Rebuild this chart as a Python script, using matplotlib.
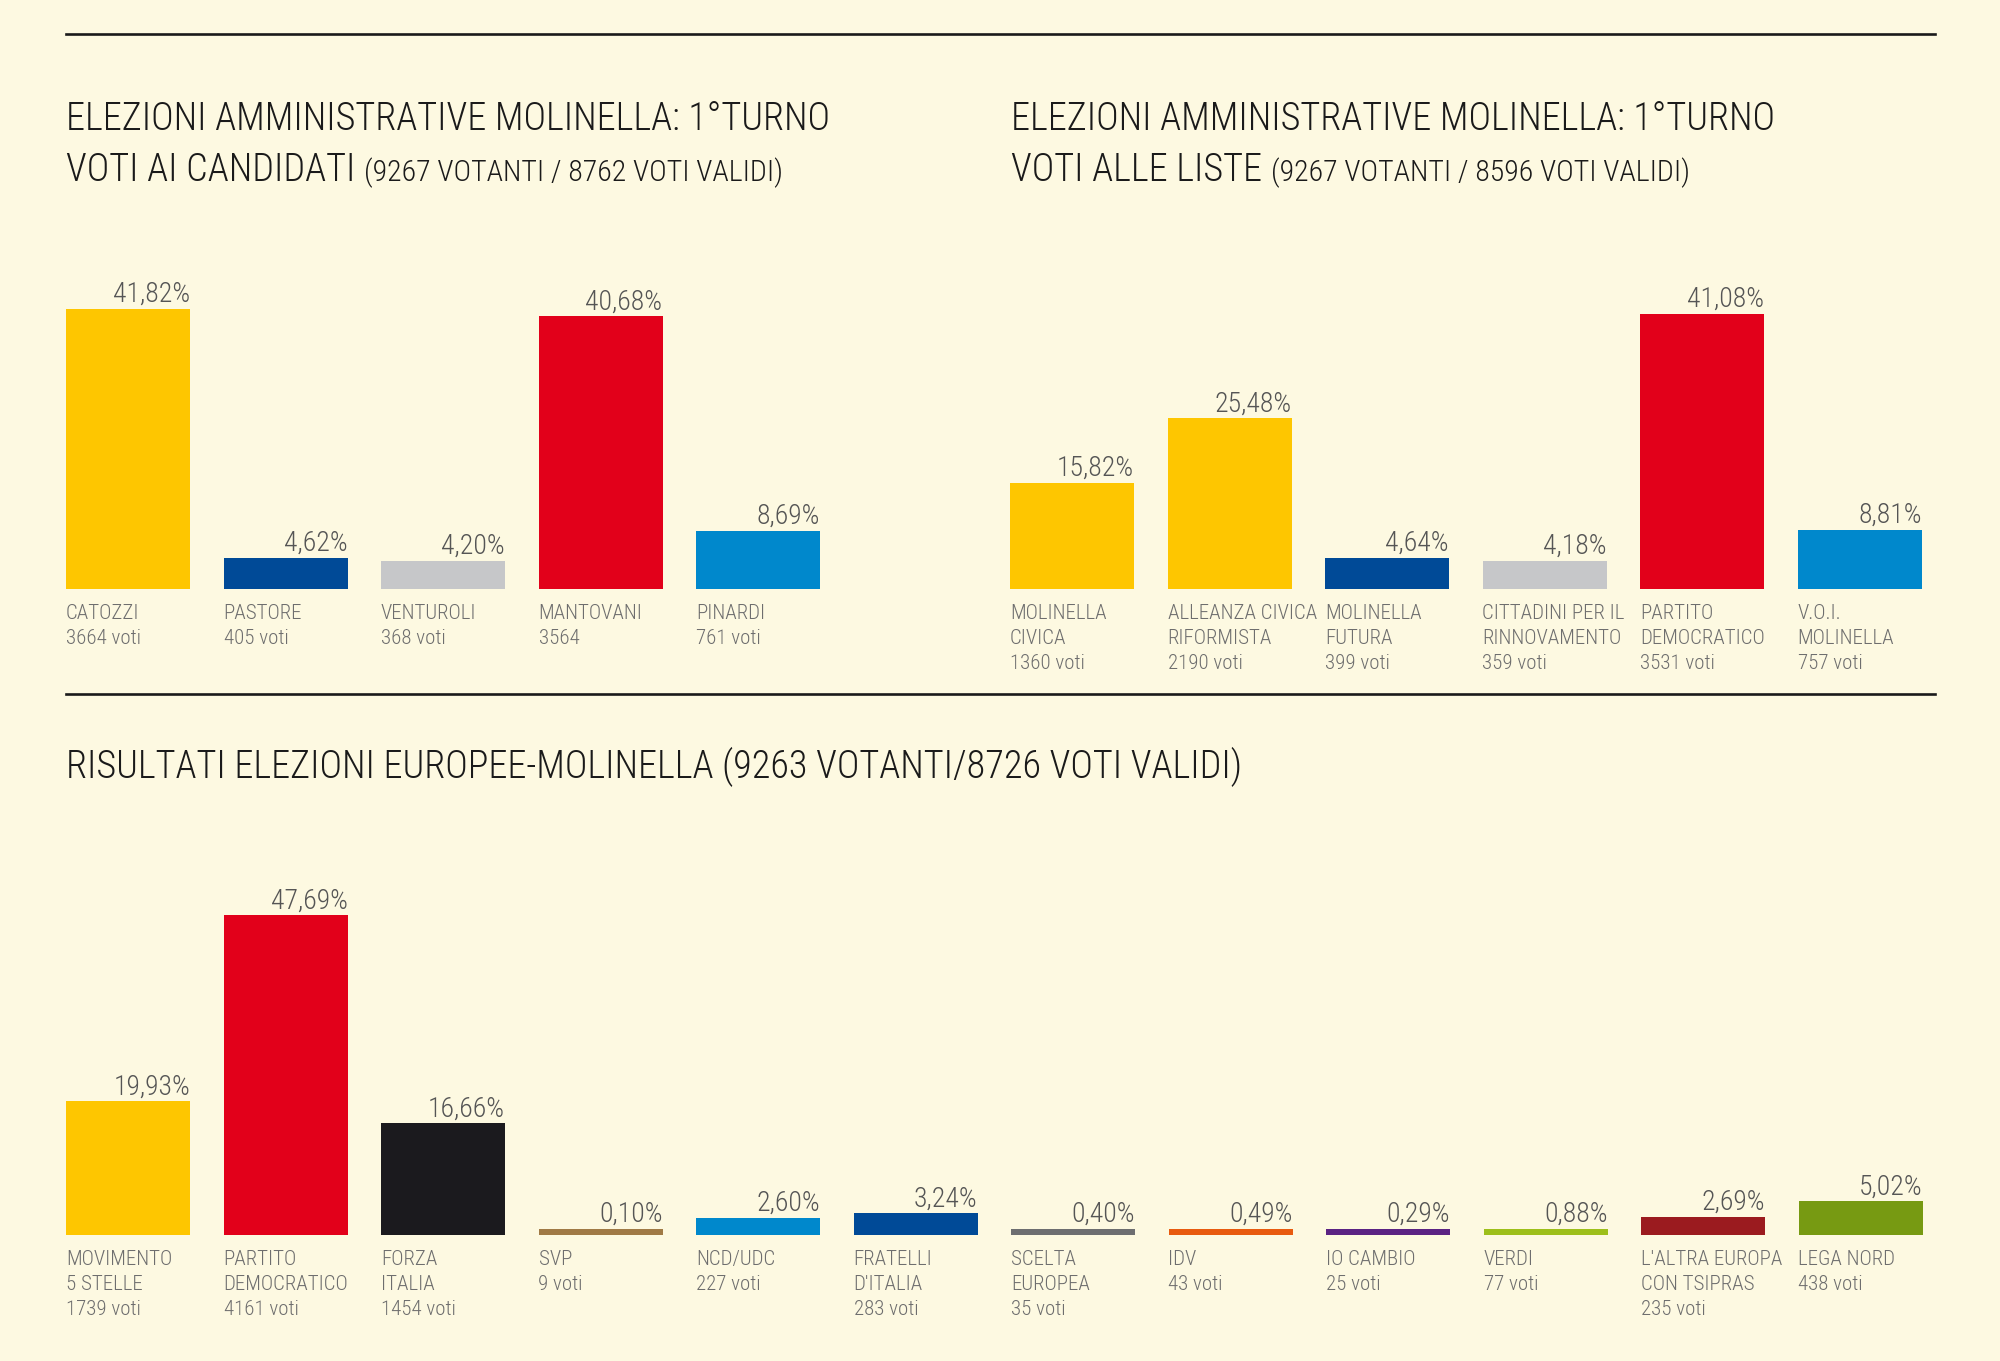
import numpy as np
import matplotlib; matplotlib.use("Agg")
import matplotlib.pyplot as plt
from matplotlib import font_manager

# ---------------------------------------------------------------------------
# dati
# ---------------------------------------------------------------------------
cand_names = ["CATOZZI", "PASTORE", "VENTUROLI", "MANTOVANI", "PINARDI"]
cand_votes = ["3664 voti", "405 voti", "368 voti", "3564", "761 voti"]
cand_pct = [41.82, 4.62, 4.20, 40.68, 8.69]
cand_colors = ["#fec600", "#004a97", "#c6c7c9", "#e2001a", "#0088cc"]

list_names = ["MOLINELLA\nCIVICA", "ALLEANZA CIVICA\nRIFORMISTA", "MOLINELLA\nFUTURA",
              "CITTADINI PER IL\nRINNOVAMENTO", "PARTITO\nDEMOCRATICO", "V.O.I.\nMOLINELLA"]
list_votes = ["1360 voti", "2190 voti", "399 voti", "359 voti", "3531 voti", "757 voti"]
list_pct = [15.82, 25.48, 4.64, 4.18, 41.08, 8.81]
list_colors = ["#fec600", "#fec600", "#004a97", "#c6c7c9", "#e2001a", "#0088cc"]

eu_names = ["MOVIMENTO\n5 STELLE", "PARTITO\nDEMOCRATICO", "FORZA\nITALIA", "SVP", "NCD/UDC",
            "FRATELLI\nD'ITALIA", "SCELTA\nEUROPEA", "IDV", "IO CAMBIO", "VERDI",
            "L'ALTRA EUROPA\nCON TSIPRAS", "LEGA NORD"]
eu_votes = ["1739 voti", "4161 voti", "1454 voti", "9 voti", "227 voti", "283 voti",
            "35 voti", "43 voti", "25 voti", "77 voti", "235 voti", "438 voti"]
eu_pct = [19.93, 47.69, 16.66, 0.10, 2.60, 3.24, 0.40, 0.49, 0.29, 0.88, 2.69, 5.02]
eu_colors = ["#fec600", "#e2001a", "#1b1a1e", "#a07a45", "#0088cc", "#004a97",
             "#6d6e70", "#e85b0f", "#5b2383", "#9dbf1a", "#9b1b1f", "#779a12"]

# ---------------------------------------------------------------------------
# stile
# ---------------------------------------------------------------------------
W, H = 2000, 1361
BG = "#fdf9e1"
STEP, BAR_W = 157.5, 124      # px
SCALE = 6.7                   # px per punto percentuale
MIN_H = 0.9                   # altezza minima visibile delle barre

names = {f.name for f in font_manager.fontManager.ttflist}
FONT = next((n for n in ["Roboto Condensed", "Liberation Sans Narrow", "DejaVu Sans"]
             if n in names), "DejaVu Sans")
plt.rcParams["font.family"] = [FONT, "DejaVu Sans"]
plt.rcParams["font.stretch"] = "condensed"
plt.rcParams["font.weight"] = "light"

fig = plt.figure(figsize=(W / 100, H / 100), dpi=100, facecolor=BG)


def fx(x):
    return x / W


def fy(y):
    return 1 - y / H


def chart(left, base, labels, votes, pct, colors, ymax=50):
    n = len(pct)
    ax = fig.add_axes([fx(left), fy(base), n * STEP / W, ymax * SCALE / H])
    ax.set_xlim(0, n); ax.set_ylim(0, ymax)
    ax.axis("off")
    x = np.arange(n)
    hts = np.maximum(pct, MIN_H)
    bw = BAR_W / STEP
    ax.bar(x, hts, width=bw, align="edge", color=colors, linewidth=0)
    for xi, h, p, lb, v in zip(x, hts, pct, labels, votes):
        ax.annotate(f"{p:.2f}%".replace(".", ","), xy=(xi + bw, h), xytext=(0, 5),
                    textcoords="offset points", ha="right", va="baseline",
                    fontsize=20, color="#555555")
        ax.annotate(lb + "\n" + v, xy=(xi, 0), xytext=(0, -11),
                    textcoords="offset points", ha="left", va="top",
                    fontsize=15, color="#6e6e6e", linespacing=1.38)
    return ax


chart(66, 589, cand_names, cand_votes, cand_pct, cand_colors)
chart(1010, 589, list_names, list_votes, list_pct, list_colors)
chart(66, 1235, eu_names, eu_votes, eu_pct, eu_colors)

# linee orizzontali
for y in (34, 694):
    fig.add_artist(plt.Line2D([fx(66), fx(1935)], [fy(y), fy(y)], color="#1a1a1a", lw=1.9))

# titoli
TS, TS2 = 27.5, 21.5
fig.text(fx(66), fy(130), "ELEZIONI AMMINISTRATIVE MOLINELLA: 1°TURNO",
         fontsize=TS, color="#1a1a1a", va="baseline")
fig.text(fx(1011), fy(130), "ELEZIONI AMMINISTRATIVE MOLINELLA: 1°TURNO",
         fontsize=TS, color="#1a1a1a", va="baseline")
t1 = fig.text(fx(66), fy(181), "VOTI AI CANDIDATI ", fontsize=TS, color="#1a1a1a", va="baseline")
t2 = fig.text(fx(1011), fy(181), "VOTI ALLE LISTE ", fontsize=TS, color="#1a1a1a", va="baseline")
fig.text(fx(66), fy(778), "RISULTATI ELEZIONI EUROPEE-MOLINELLA (9263 VOTANTI/8726 VOTI VALIDI)",
         fontsize=TS, color="#1a1a1a", va="baseline")

fig.canvas.draw()
r = fig.canvas.get_renderer()
for t, s in ((t1, "(9267 VOTANTI / 8762 VOTI VALIDI)"), (t2, "(9267 VOTANTI / 8596 VOTI VALIDI)")):
    bb = t.get_window_extent(r)
    fig.text(bb.x1 / W, fy(181), s, fontsize=TS2, color="#1a1a1a", va="baseline")

fig.savefig("out.png", dpi=100, facecolor=BG)
